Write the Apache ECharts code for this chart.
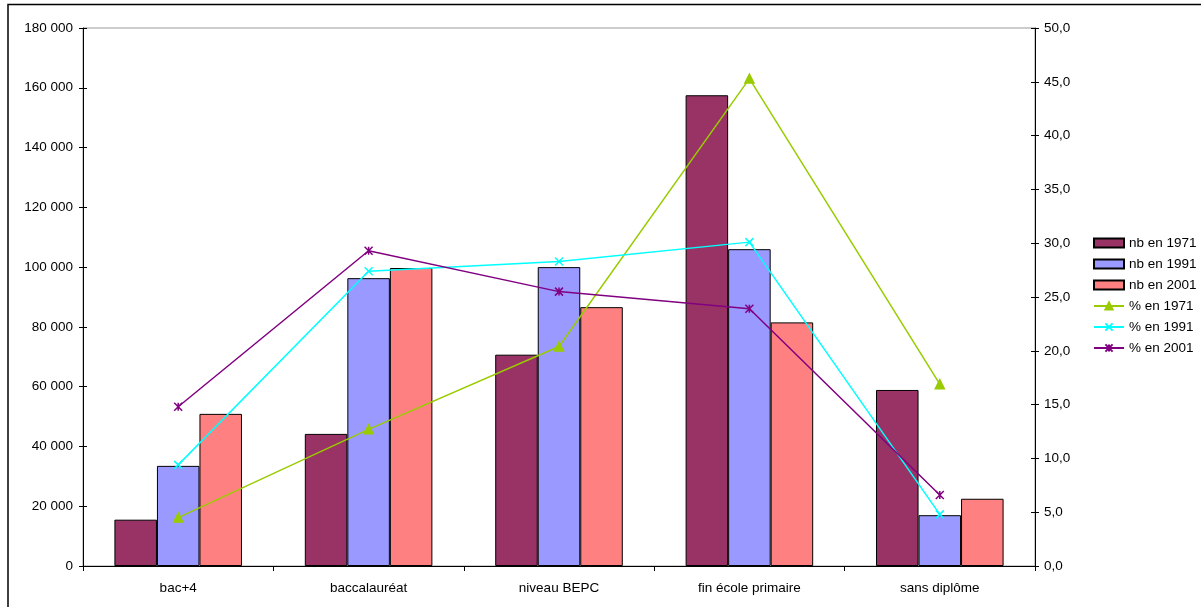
<!DOCTYPE html>
<html>
<head>
<meta charset="utf-8">
<script src="https://cdn.jsdelivr.net/npm/echarts@6/dist/echarts.min.js"></script>
<style>
  html, body { margin: 0; padding: 0; background: #fff; }
  #chart { width: 1201px; height: 607px; }
</style>
</head>
<body>
<div id="chart"></div>
<script>
// données
var categories = ['bac+4', 'baccalauréat', 'niveau BEPC', 'fin école primaire', 'sans diplôme'];
var nb1971 = [15500, 44200, 70700, 157500, 58900];
var nb1991 = [33500, 96300, 100000, 106000, 17000];
var nb2001 = [50900, 99700, 86600, 81500, 22500];
var pct1971 = [4.5, 12.7, 20.4, 45.3, 16.9];
var pct1991 = [9.4, 27.4, 28.3, 30.1, 4.8];
var pct2001 = [14.8, 29.3, 25.5, 23.9, 6.6];

var font = 'Liberation Sans, Arial, sans-serif';
var chart = echarts.init(document.getElementById('chart'));

function fmtLeft(v) {
  return String(v).replace(/\B(?=(\d{3})+(?!\d))/g, ' ');
}
function fmtRight(v) {
  return v.toFixed(1).replace('.', ',');
}

// axe "fantôme" pour avoir des graduations qui traversent l'axe
function tickAxis(pos, max, interval) {
  return {
    type: 'value', position: pos, min: 0, max: max, interval: interval,
    axisLine: { show: false },
    axisLabel: { show: false },
    axisTick: { show: true, inside: true, length: 4, lineStyle: { color: '#000' } },
    splitLine: { show: false }
  };
}

function barSeries(name, data, color) {
  return {
    name: name, type: 'bar', data: data, yAxisIndex: 0,
    barGap: '0%', barCategoryGap: '33%',
    itemStyle: { color: color, borderColor: '#000', borderWidth: 1 }
  };
}

function lineSeries(name, data, color, symbol, size) {
  return {
    name: name, type: 'line', data: data, yAxisIndex: 1,
    symbol: symbol, symbolSize: size, showSymbol: true,
    lineStyle: { color: color, width: 1.5 },
    itemStyle: { color: color, borderColor: color, borderWidth: 1.5 },
    z: 5
  };
}

var option = {
  animation: false,
  backgroundColor: '#fff',
  textStyle: { fontFamily: font },
  graphic: [{
    type: 'rect',
    shape: { x: 8, y: 4.5, width: 1200, height: 610 },
    style: { fill: 'none', stroke: '#000', lineWidth: 1.5 },
    silent: true
  }],
  grid: {
    left: 83, right: 166, top: 28, bottom: 41,
    show: true, borderColor: '#999', borderWidth: 1
  },
  legend: {
    orient: 'vertical', left: 1093, top: 235, padding: 0,
    itemWidth: 30, itemHeight: 9, itemGap: 5,
    selectedMode: false,
    textStyle: { fontFamily: font, fontSize: 13.5, color: '#000', lineHeight: 16 },
    data: [
      { name: 'nb en 1971', icon: 'rect' },
      { name: 'nb en 1991', icon: 'rect' },
      { name: 'nb en 2001', icon: 'rect' },
      '% en 1971', '% en 1991', '% en 2001'
    ]
  },
  xAxis: {
    type: 'category', data: categories, boundaryGap: true,
    axisLine: { lineStyle: { color: '#000', width: 1 } },
    axisTick: { show: true, length: 5, alignWithLabel: false, lineStyle: { color: '#000' } },
    axisLabel: { color: '#000', fontSize: 13.5, fontFamily: font, margin: 15 }
  },
  yAxis: [
    {
      type: 'value', position: 'left', min: 0, max: 180000, interval: 20000,
      axisLine: { show: true, lineStyle: { color: '#000', width: 1 } },
      axisTick: { show: true, length: 4, lineStyle: { color: '#000' } },
      axisLabel: { color: '#000', fontSize: 13.5, fontFamily: font, margin: 10, formatter: fmtLeft },
      splitLine: { show: false }
    },
    {
      type: 'value', position: 'right', min: 0, max: 50, interval: 5,
      axisLine: { show: true, lineStyle: { color: '#000', width: 1 } },
      axisTick: { show: true, length: 4, lineStyle: { color: '#000' } },
      axisLabel: { color: '#000', fontSize: 13.5, fontFamily: font, margin: 9, formatter: fmtRight },
      splitLine: { show: false }
    },
    tickAxis('left', 180000, 20000),
    tickAxis('right', 50, 5)
  ],
  series: [
    barSeries('nb en 1971', nb1971, '#993366'),
    barSeries('nb en 1991', nb1991, '#9999FF'),
    barSeries('nb en 2001', nb2001, '#FF8080'),
    lineSeries('% en 1971', pct1971, '#99CC00', 'triangle', 9),
    lineSeries('% en 1991', pct1991, '#00FFFF', 'path://M0,0L10,10M10,0L0,10', 8),
    lineSeries('% en 2001', pct2001, '#800080', 'path://M0,0L10,10M10,0L0,10M5,0L5,10', 8)
  ]
};

chart.setOption(option);
</script>
</body>
</html>
